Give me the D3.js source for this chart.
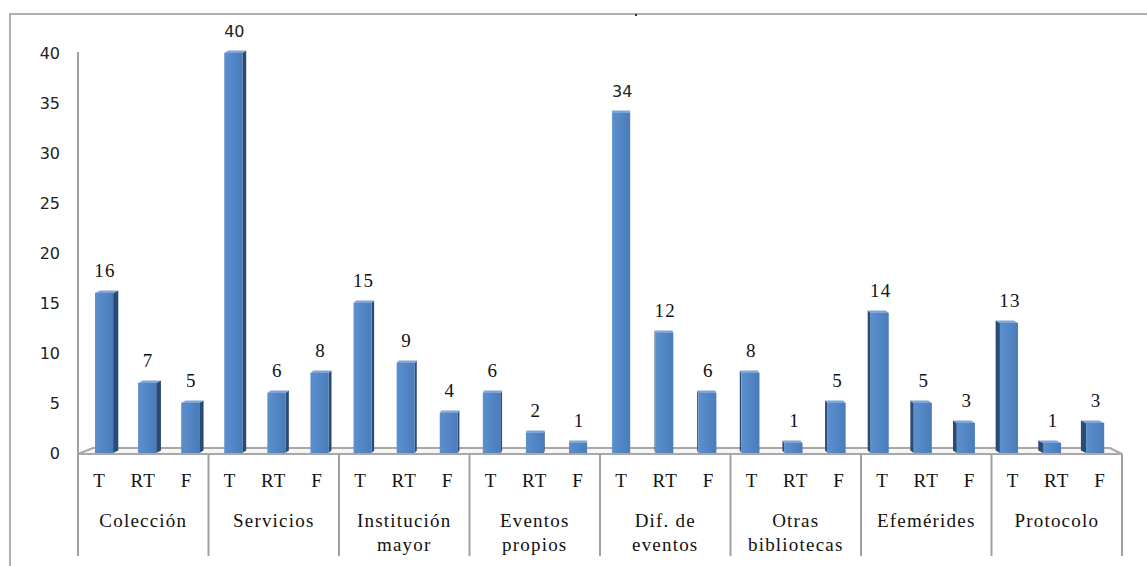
<!DOCTYPE html>
<html><head><meta charset="utf-8">
<script src="https://cdn.jsdelivr.net/npm/d3@7/dist/d3.min.js"></script>
<style>
body{margin:0;background:#fff}svg{display:block}
.serif{font-family:'Liberation Serif','Times New Roman','DejaVu Serif',serif;font-size:19px;letter-spacing:1.2px;fill:#111}
.sans{font-family:'DejaVu Sans',Verdana,sans-serif;font-size:16px;fill:#222}
</style>
</head><body>
<svg id="c" width="1147" height="566"></svg>
<script>
const categories = ["Colección","Servicios","Institución\nmayor","Eventos\npropios","Dif. de\neventos","Otras\nbibliotecas","Efemérides","Protocolo"];
const subTypes = ["T","RT","F"];
const valuesT  = [16,40,15,6,34,8,14,13];
const valuesRT = [7,6,9,2,12,1,5,1];
const valuesF  = [5,8,4,1,6,5,3,3];
const yTicks = [0,5,10,15,20,25,30,35,40];
const sansLabels = ["Servicios|T","Dif. de\neventos|T"];

const series = {T: valuesT, RT: valuesRT, F: valuesF};
const rows = [];
categories.forEach((c, ci) => subTypes.forEach(s => rows.push({cat: c, sub: s, key: c + "|" + s, v: series[s][ci]})));

const svg = d3.select("#c");
const y = d3.scaleLinear().domain([0, 40]).range([453, 53]);
const xBar = d3.scaleBand().domain(rows.map(d => d.key)).range([82.5, 1116.7]).paddingInner(0.58).paddingOuter(0.29);
const xTick = d3.scaleBand().domain(rows.map(d => d.key)).range([78, 1122]);
const xCat = d3.scaleBand().domain(categories).range([78, 1122]);
const mid = 599.6;
const grey = "#a0a0a0";

// outer border
svg.append("path").attr("d", "M10,566 L10,14 L1147,14").attr("fill", "none").attr("stroke", "#b0b0b0").attr("stroke-width", 2);
svg.append("rect").attr("x", 635).attr("y", 14).attr("width", 2).attr("height", 2).attr("fill", "#333");

// floor
svg.append("path").attr("d", `M78,${y(0)+1} L93,${y(0)-5} L1110,${y(0)-5} L1122,${y(0)+1} Z`)
  .attr("fill", "#f6f6f6").attr("stroke", "#a8a8a8").attr("stroke-width", 2);

// y axis line
svg.append("line").attr("x1", 78).attr("x2", 78).attr("y1", y(40) - 1).attr("y2", 556).attr("stroke", grey).attr("stroke-width", 2);

// y tick labels
svg.append("g").selectAll("text").data(yTicks).join("text")
  .attr("class", "sans")
  .attr("x", 60).attr("y", d => y(d)).attr("dy", "0.36em").attr("text-anchor", "end")
  .text(d => d);

// gradient
const defs = svg.append("defs");
const g = defs.append("linearGradient").attr("id", "bf").attr("x1", 0).attr("x2", 1).attr("y1", 0).attr("y2", 0);
g.append("stop").attr("offset", 0).attr("stop-color", "#5b8fce");
g.append("stop").attr("offset", 1).attr("stop-color", "#4a7cba");

// bars
const bars = svg.append("g").selectAll("g").data(rows).join("g");
bars.each(function(d) {
  const gg = d3.select(this);
  const x0 = xBar(d.key), x1 = x0 + xBar.bandwidth();
  const top = y(d.v), bot = y(0);
  const c = (x0 + x1) / 2;
  const w = (mid - c) * 0.0105;
  const dd = 2.5;
  if (Math.abs(w) > 0.3) {
    const xe = w > 0 ? x1 : x0;
    gg.append("path").attr("d", `M${xe},${top} L${xe + w},${top - dd} L${xe + w},${bot - dd} L${xe},${bot} Z`).attr("fill", "#2b4b77");
  }
  gg.append("path").attr("d", `M${x0},${top} L${x0 + w},${top - dd} L${x1 + w},${top - dd} L${x1},${top} Z`).attr("fill", "#7fa6d8");
  gg.append("rect").attr("x", x0).attr("y", top).attr("width", x1 - x0).attr("height", bot - top).attr("fill", "url(#bf)");
});

// data labels
svg.append("g").selectAll("text").data(rows).join("text")
  .attr("class", d => sansLabels.includes(d.key) ? "sans" : "serif")
  .attr("x", d => xBar(d.key) + xBar.bandwidth() / 2 + 1)
  .attr("y", d => y(d.v) - 16)
  .attr("text-anchor", "middle")
  .text(d => d.v);

// category separators
svg.append("g").selectAll("line").data(categories.concat(["end"])).join("line")
  .attr("x1", (d, i) => 78 + i * xCat.step()).attr("x2", (d, i) => 78 + i * xCat.step())
  .attr("y1", y(0) + 1).attr("y2", 556).attr("stroke", grey).attr("stroke-width", 2);

// sub labels
svg.append("g").selectAll("text").data(rows).join("text")
  .attr("class", "serif")
  .attr("x", d => xTick(d.key) + xTick.bandwidth() / 2).attr("y", 487)
  .attr("text-anchor", "middle")
  .text(d => d.sub);

// category labels
const cl = svg.append("g").selectAll("text").data(categories).join("text")
  .attr("class", "serif")
  .attr("x", d => xCat(d) + xCat.bandwidth() / 2).attr("y", 527)
  .attr("text-anchor", "middle");
cl.each(function(d) {
  const t = d3.select(this);
  d.split("\n").forEach((line, i) => t.append("tspan").attr("x", xCat(d) + xCat.bandwidth() / 2).attr("dy", i ? 24 : 0).text(line));
});
</script>
</body></html>
